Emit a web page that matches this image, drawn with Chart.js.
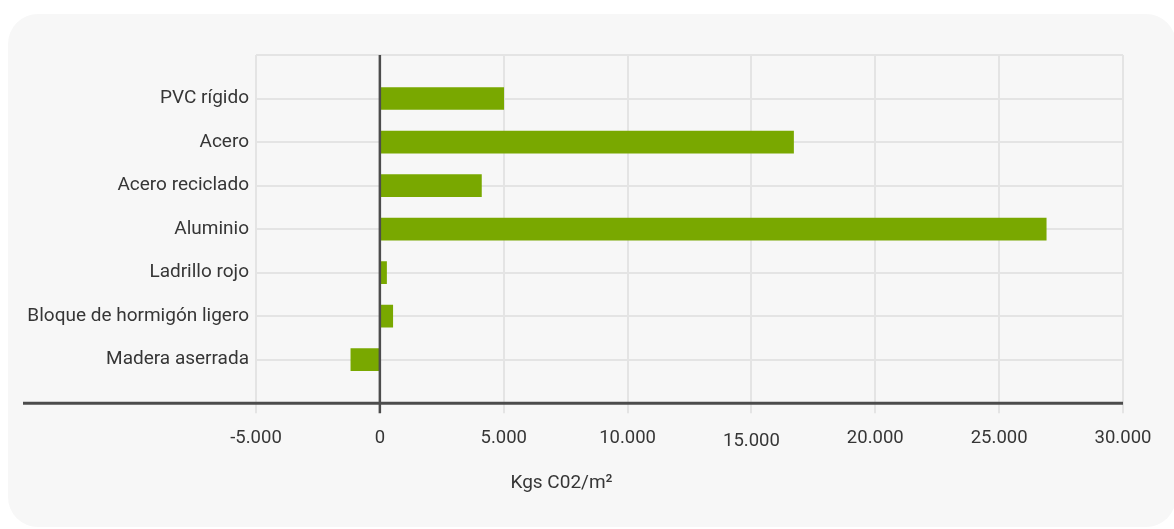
<!DOCTYPE html>
<html lang="es">
<head>
<meta charset="utf-8">
<title>Emisiones de CO2 por material</title>
<script src="https://cdn.jsdelivr.net/npm/chart.js@4.4.1/dist/chart.umd.min.js"></script>
<style>
  html, body { margin: 0; padding: 0; background: #ffffff; }
  body { width: 1174px; height: 529px; position: relative; overflow: hidden; }
  .card {
    position: absolute; left: 8px; top: 14px; width: 1168px; height: 513px;
    background: #f7f7f7; border-radius: 30px;
  }
  #wrap { position: absolute; left: 0; top: 0; width: 1174px; height: 529px; }
</style>
</head>
<body>
<div class="card"></div>
<div id="wrap"><canvas id="chart" width="1174" height="529"></canvas></div>
<script>
// Materials and their embodied emissions (Kgs CO2 per m²)
const categories = [
  'PVC rígido',
  'Acero',
  'Acero reciclado',
  'Aluminio',
  'Ladrillo rojo',
  'Bloque de hormigón ligero',
  'Madera aserrada'
];
const emissions = [5000, 16700, 4100, 26900, 270, 520, -1170];

// Horizontal axis range and step
const axisMin = -5000;
const axisMax = 30000;
const axisStep = 5000;

const axisTitle = 'Kgs C02/m²';

const FONT = 'Roboto, "Noto Sans", "DejaVu Sans", sans-serif';
const TEXT = '#363636';
const GRID = '#e4e4e4';
const AXIS = '#4c4c4c';
const BAR = '#79a800';

// Spanish-style thousands separator: 15000 -> 15.000
function fmt(v) {
  const s = Math.abs(v).toFixed(0).replace(/\B(?=(\d{3})+(?!\d))/g, '.');
  return (v < 0 ? '-' : '') + s;
}

// Empty slots above and below give the plot its outer band
const rowLabels = [''].concat(categories, ['']);
const rowValues = [null].concat(emissions, [null]);

// Zero line and baseline are painted over the bars
const axisLines = {
  id: 'axisLines',
  afterDatasetsDraw(chart) {
    const { ctx, chartArea, scales } = chart;
    const x0 = scales.x.getPixelForValue(0);
    ctx.save();
    ctx.strokeStyle = AXIS;
    ctx.lineWidth = 2.5;
    ctx.beginPath();
    ctx.moveTo(x0, chartArea.top);
    ctx.lineTo(x0, chartArea.bottom + 10);
    ctx.stroke();
    ctx.lineWidth = 3;
    ctx.beginPath();
    ctx.moveTo(23, chartArea.bottom);
    ctx.lineTo(chartArea.right, chartArea.bottom);
    ctx.stroke();
    ctx.restore();
  }
};

new Chart(document.getElementById('chart'), {
  type: 'bar',
  data: {
    labels: rowLabels,
    datasets: [{
      data: rowValues,
      backgroundColor: BAR,
      borderWidth: 0,
      barThickness: 22
    }]
  },
  options: {
    indexAxis: 'y',
    responsive: false,
    animation: false,
    layout: { padding: { top: 55, right: 51, bottom: 34, left: 0 } },
    plugins: {
      legend: { display: false },
      tooltip: { enabled: false },
      title: {
        display: true,
        position: 'bottom',
        text: axisTitle,
        color: TEXT,
        font: { family: FONT, size: 19, weight: 'normal', lineHeight: 1.2 },
        padding: { top: 0, bottom: 0 }
      }
    },
    scales: {
      x: {
        type: 'linear',
        min: axisMin,
        max: axisMax,
        border: { display: false },
        grid: {
          color: ctx => (ctx.tick && ctx.tick.value === 0 ? 'rgba(0,0,0,0)' : GRID),
          lineWidth: 2,
          drawTicks: true,
          tickLength: 10
        },
        ticks: {
          stepSize: axisStep,
          padding: 14,
          color: TEXT,
          maxRotation: 0,
          font: ctx => ({
            family: FONT,
            size: 18.5,
            lineHeight: ctx.tick && ctx.tick.value === 15000 ? 1.5 : 1.2
          }),
          callback: v => fmt(v)
        },
        afterFit: s => { s.height = 69; }
      },
      y: {
        type: 'category',
        offset: false,
        border: { display: false },
        grid: { color: GRID, lineWidth: 2, drawTicks: false, offset: false },
        ticks: {
          padding: 7,
          color: TEXT,
          autoSkip: false,
          font: { family: FONT, size: 19 }
        },
        afterFit: s => { s.width = 256; }
      }
    }
  },
  plugins: [axisLines]
});
</script>
</body>
</html>
